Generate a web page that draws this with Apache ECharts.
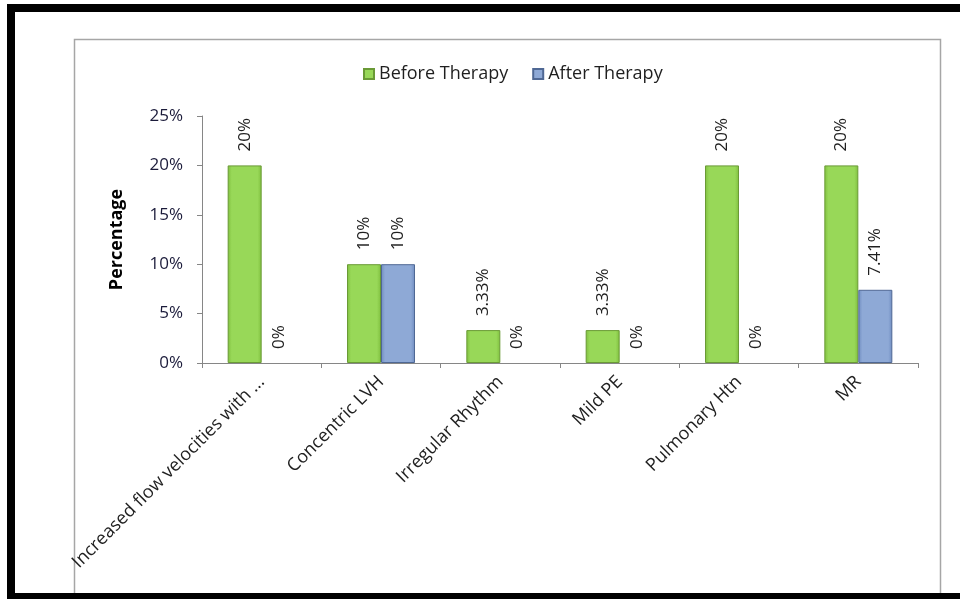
<!DOCTYPE html>
<html lang="en">

<head>
  <meta charset="UTF-8" />
  <title>Before vs After Therapy</title>
  <script src="https://cdn.jsdelivr.net/npm/echarts@6/dist/echarts.min.js"></script>
  <style>
    html, body {
      margin: 0;
      padding: 0;
      background: #fff;
    }

    #chart {
      width: 960px;
      height: 599px;
    }
  </style>
</head>

<body>
  <div id="chart"></div>

  <script>
    // categories and values (percent)
    const categories = ['Increased flow velocities with ...', 'Concentric LVH', 'Irregular Rhythm', 'Mild PE', 'Pulmonary Htn', 'MR'];
    const beforeTherapy = [20, 10, 3.33, 3.33, 20, 20];
    const afterTherapy = [0, 10, 0, 0, 0, 7.41];
    const seriesNames = ['Before Therapy', 'After Therapy'];

    const font = '"Open Sans", "Noto Sans", sans-serif';
    const textColor = '#1f1f1f';

    const chart = echarts.init(document.getElementById('chart'));

    // bevel-ish look on bars
    function barFill(edge, mid) {
      return new echarts.graphic.LinearGradient(0, 0, 1, 0, [
        { offset: 0, color: edge },
        { offset: 0.12, color: mid },
        { offset: 0.88, color: mid },
        { offset: 1, color: edge }
      ]);
    }

    // zero bars are not drawn in the original, only their label
    function toItems(values) {
      return values.map(v => v === 0
        ? { value: v, itemStyle: { color: 'transparent', borderWidth: 0 } }
        : v);
    }

    const valueLabel = {
      show: true,
      position: 'top',
      rotate: 90,
      align: 'left',
      verticalAlign: 'middle',
      distance: 14,
      fontFamily: font,
      fontSize: 17,
      color: textColor,
      formatter: p => p.value + '%'
    };

    const option = {
      animation: false,
      backgroundColor: '#fff',
      textStyle: { fontFamily: font },
      graphic: [
        // gray chart area frame
        {
          type: 'rect',
          shape: { x: 74.5, y: 39.5, width: 866, height: 600 },
          style: { fill: 'none', stroke: '#a6a6a6', lineWidth: 1.5 },
          silent: true
        },
        // black page frame
        { type: 'rect', shape: { x: 7, y: 4, width: 953, height: 8 }, style: { fill: '#000' }, silent: true },
        { type: 'rect', shape: { x: 7, y: 4, width: 8, height: 595 }, style: { fill: '#000' }, silent: true },
        { type: 'rect', shape: { x: 7, y: 593, width: 953, height: 6 }, style: { fill: '#000' }, silent: true }
      ],
      legend: {
        data: seriesNames,
        top: 60,
        left: 358,
        itemWidth: 10,
        itemHeight: 10,
        itemGap: 24,
        icon: 'rect',
        textStyle: { fontFamily: font, fontSize: 18, color: textColor }
      },
      grid: {
        left: 202,
        right: 42,
        top: 116,
        bottom: 236,
        containLabel: false
      },
      xAxis: {
        type: 'category',
        data: categories,
        axisLine: { lineStyle: { color: '#868686', width: 1 } },
        axisTick: { show: true, alignWithLabel: false, length: 5, lineStyle: { color: '#868686' } },
        axisLabel: {
          interval: 0,
          rotate: 45,
          margin: 16,
          fontFamily: font,
          fontSize: 18,
          color: textColor
        }
      },
      yAxis: {
        type: 'value',
        min: 0,
        max: 25,
        interval: 5,
        name: 'Percentage',
        nameLocation: 'middle',
        nameGap: 76,
        nameTextStyle: { fontFamily: font, fontSize: 18, fontWeight: 'bold', color: '#000' },
        axisLine: { show: true, lineStyle: { color: '#868686', width: 1 } },
        axisTick: { show: true, length: 5, lineStyle: { color: '#868686' } },
        splitLine: { show: false },
        axisLabel: {
          formatter: '{value}%',
          margin: 19,
          fontFamily: font,
          fontSize: 17,
          color: '#1b1b3a'
        }
      },
      series: [
        {
          name: seriesNames[0],
          type: 'bar',
          data: toItems(beforeTherapy),
          barWidth: 34,
          barGap: '0%',
          itemStyle: {
            color: barFill('#7fbf3e', '#98d858'),
            borderColor: '#6a9a36',
            borderWidth: 1
          },
          label: valueLabel
        },
        {
          name: seriesNames[1],
          type: 'bar',
          data: toItems(afterTherapy),
          barWidth: 34,
          itemStyle: {
            color: barFill('#6f8cc0', '#8ea9d6'),
            borderColor: '#4f6894',
            borderWidth: 1
          },
          label: valueLabel
        }
      ]
    };

    chart.setOption(option);
  </script>
</body>

</html>
